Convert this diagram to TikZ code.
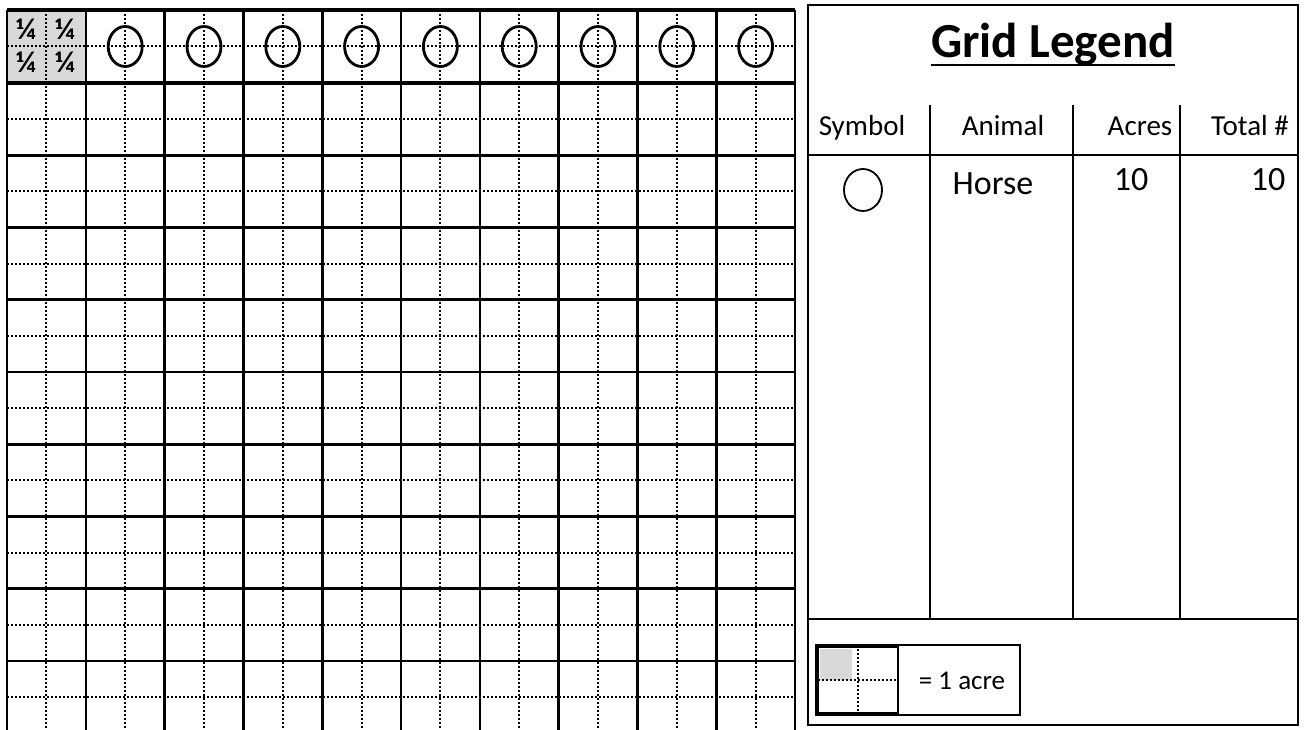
\documentclass[tikz,border=0pt]{standalone}
\usepackage{fontspec}
\setmainfont{Carlito}
\usetikzlibrary{arrows,shapes}
\tikzstyle{gridline}=[line width=2.6pt]
\tikzstyle{halfline}=[line width=2pt, dash pattern=on 2pt off 2pt]
\tikzstyle{legline}=[line width=2pt]
\tikzstyle{horseoval}=[line width=2.8pt]
\tikzstyle{hand}=[font=\fontsize{34}{36}\selectfont]
\tikzstyle{quarter}=[font=\bfseries\fontsize{30}{30}\selectfont, inner sep=0pt]
\tikzstyle{headtext}=[anchor=base, inner sep=0pt, font=\fontsize{29}{31}\selectfont]

\begin{document}
\begin{tikzpicture}[x=1pt,y=-1pt]
\useasboundingbox (0,0) rectangle (1304,730);
\fill[gray!30] (7,10) rectangle (84.8,83);
% quarter-acre grid
\foreach \i in {0,...,9} \draw[halfline](46.4+78.8*\i,10)--(46.4+78.8*\i,730);
\draw[halfline](7,46.5)--(795,46.5);
\foreach \j in {0,...,8} \draw[halfline](7,119.1+72.25*\j)--(795,119.1+72.25*\j);
\foreach \i in {0,...,10} \draw[gridline](7+78.8*\i,10)--(7+78.8*\i,730);
\draw[line width=3.6pt](7,10)--(795,10);
\draw[line width=3.6pt](7,83)--(795,83);
\foreach \j in {1,...,8} \draw[gridline](7,83+72.25*\j)--(795,83+72.25*\j);
\node[quarter] (q1) at (26,29) {¼};
\node[quarter] (q2) at (65,29) {¼};
\node[quarter] (q3) at (26,62) {¼};
\node[quarter] (q4) at (65,62) {¼};
\foreach \i in {1,...,9} \draw[horseoval](46.4+78.8*\i,46.5) ellipse (17 and 20);
% legend
\draw[legline](808,5) rectangle (1298,725);
\node[inner sep=0pt, font=\bfseries\fontsize{49}{51}\selectfont] (title) at (1053,44) {Grid Legend};
\draw[line width=2.2pt]([yshift=-8pt]title.base west)--([yshift=-8pt]title.base east);
\node[headtext] (hsym) at (862,136) {Symbol};
\node[headtext] (hani) at (1003,136) {Animal};
\node[headtext] (hacr) at (1140,136) {Acres};
\node[headtext] (htot) at (1250,136) {Total \#};
\coordinate (hl) at (808,155); \coordinate (hr) at (1298,155);
\coordinate (fl) at (808,619); \coordinate (fr) at (1298,619);
\draw[legline](hl)--(hr);
\draw[legline](fl)--(fr);
\draw[legline](930,105)--(930,619);
\draw[legline](1073,105)--(1073,619);
\draw[legline](1180,105)--(1180,619);
\draw[line width=1.8pt](863,190) ellipse (19 and 21);
\node[hand] (horse) at (993,184) {Horse};
\node[hand] (acres) at (1131,180) {10};
\node[hand] (total) at (1268,180) {10};
% one acre key
\draw[legline](816,645) rectangle (1020,715);
\fill[gray!30](820,649) rectangle (852,680);
\draw[halfline](858,649)--(858,713);
\draw[halfline](818,680)--(898,680);
\draw[line width=1.6pt](818,647) rectangle (898,713);
\node[font=\fontsize{27}{29}\selectfont] (acre) at (962,681) {= 1 acre};
\end{tikzpicture}
\end{document}
